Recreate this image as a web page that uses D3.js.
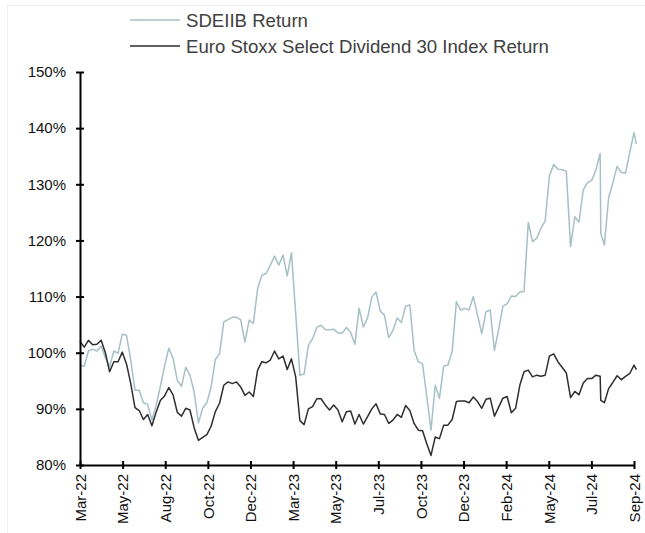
<!DOCTYPE html>
<html>
<head>
<meta charset="utf-8">
<script src="https://cdn.jsdelivr.net/npm/d3@7"></script>
<style>
  html, body { margin: 0; padding: 0; background: #fff; }
  svg { display: block; font-family: "Liberation Sans", Arial, sans-serif; }
</style>
</head>
<body>
<svg id="chart" width="645" height="533"></svg>
<script>
// weekly observation dates (two irregular points: 2024-07-27 and 2024-09-24)
const dates = [
  '2022-03-18','2022-03-25','2022-04-01','2022-04-08','2022-04-15','2022-04-22','2022-04-29','2022-05-06','2022-05-13','2022-05-20',
  '2022-05-27','2022-06-03','2022-06-10','2022-06-17','2022-06-24','2022-07-01','2022-07-08','2022-07-15','2022-07-22','2022-07-29',
  '2022-08-05','2022-08-12','2022-08-19','2022-08-26','2022-09-02','2022-09-09','2022-09-16','2022-09-23','2022-09-30','2022-10-07',
  '2022-10-14','2022-10-21','2022-10-28','2022-11-04','2022-11-11','2022-11-18','2022-11-25','2022-12-02','2022-12-09','2022-12-16',
  '2022-12-23','2022-12-30','2023-01-06','2023-01-13','2023-01-20','2023-01-27','2023-02-03','2023-02-10','2023-02-17','2023-02-24',
  '2023-03-03','2023-03-10','2023-03-17','2023-03-24','2023-03-31','2023-04-07','2023-04-14','2023-04-21','2023-04-28','2023-05-05',
  '2023-05-12','2023-05-19','2023-05-26','2023-06-02','2023-06-09','2023-06-16','2023-06-23','2023-06-30','2023-07-07','2023-07-14',
  '2023-07-21','2023-07-28','2023-08-04','2023-08-11','2023-08-18','2023-08-25','2023-09-01','2023-09-08','2023-09-15','2023-09-22',
  '2023-09-29','2023-10-06','2023-10-13','2023-10-20','2023-10-27','2023-11-03','2023-11-10','2023-11-17','2023-11-24','2023-12-01',
  '2023-12-08','2023-12-15','2023-12-22','2023-12-29','2024-01-05','2024-01-12','2024-01-19','2024-01-26','2024-02-02','2024-02-09',
  '2024-02-16','2024-02-23','2024-03-01','2024-03-08','2024-03-15','2024-03-22','2024-03-29','2024-04-05','2024-04-12','2024-04-19',
  '2024-04-26','2024-05-03','2024-05-10','2024-05-17','2024-05-24','2024-05-31','2024-06-07','2024-06-14','2024-06-21','2024-06-28',
  '2024-07-05','2024-07-12','2024-07-19','2024-07-26','2024-07-27','2024-08-02','2024-08-09','2024-08-16','2024-08-23','2024-08-30',
  '2024-09-06','2024-09-13','2024-09-20','2024-09-24'
]

// SDEIIB Return (%)
const sdeiib = [
  97.8, 97.6, 100.3, 100.6, 100.3, 101.2, 99.1, 97.5, 100.3, 99.9,
  103.3, 103.1, 98.7, 93.3, 93.3, 91.1, 90.8, 88.0, 90.6, 94.0,
  97.6, 100.8, 99.0, 95.1, 94.0, 97.4, 96.0, 93.0, 87.5, 90.1,
  91.1, 93.9, 98.8, 99.8, 105.5, 105.9, 106.3, 106.3, 105.9, 101.9,
  105.8, 105.2, 111.4, 113.8, 114.1, 115.6, 117.2, 115.6, 117.4, 113.7,
  117.8, 107.0, 96.0, 96.2, 101.3, 102.5, 104.5, 104.9, 104.1, 104.1,
  104.2, 103.5, 103.5, 104.5, 103.6, 101.5, 107.9, 104.6, 106.2, 109.9,
  110.8, 107.4, 106.7, 102.7, 104.0, 106.2, 105.4, 108.3, 108.5, 100.4,
  98.4, 98.0, 92.2, 86.2, 94.2, 91.9, 97.6, 97.8, 100.2, 109.1,
  107.6, 107.9, 107.6, 110.0, 106.7, 103.4, 107.3, 107.6, 100.4, 104.2,
  108.3, 108.7, 110.1, 110.0, 110.8, 110.9, 123.2, 119.8, 120.4, 122.2,
  123.5, 131.5, 133.5, 132.7, 132.6, 132.3, 118.9, 124.2, 123.3, 129.0,
  130.3, 130.7, 132.6, 135.5, 121.3, 119.2, 127.6, 130.3, 133.2, 132.1,
  132.0, 135.7, 139.2, 137.2
]

// Euro Stoxx Select Dividend 30 Index Return (%)
const euroStoxx = [
  102.0, 101.0, 102.2, 101.4, 101.5, 102.2, 100.0, 96.6, 98.4, 98.4,
  100.1, 98.0, 94.5, 90.2, 89.7, 88.1, 89.0, 87.0, 89.4, 91.5,
  92.3, 93.8, 92.5, 89.4, 88.7, 90.1, 89.8, 86.6, 84.4, 84.9,
  85.4, 86.9, 89.5, 91.0, 94.2, 94.8, 94.5, 94.8, 93.9, 92.4,
  93.0, 92.2, 96.9, 98.4, 98.2, 98.7, 100.3, 98.9, 99.4, 97.0,
  98.9, 95.7, 87.9, 87.2, 90.0, 90.4, 91.8, 91.8, 90.7, 89.8,
  90.7, 89.8, 87.7, 89.5, 89.6, 87.3, 89.0, 87.3, 88.6, 90.0,
  90.9, 89.1, 89.0, 87.4, 88.0, 89.0, 88.5, 90.6, 89.7, 87.4,
  86.2, 86.1, 83.8, 81.7, 85.0, 84.7, 87.1, 87.1, 88.1, 91.3,
  91.4, 91.4, 91.1, 92.1, 91.3, 90.1, 91.7, 91.9, 88.7, 90.3,
  91.9, 92.2, 89.3, 90.1, 94.2, 96.6, 96.9, 95.7, 96.0, 95.8,
  96.0, 99.4, 99.8, 98.4, 97.4, 96.4, 92.0, 93.1, 92.5, 94.6,
  95.4, 95.4, 96.0, 95.8, 91.5, 91.1, 93.6, 94.7, 95.9, 95.2,
  95.8, 96.3, 97.8, 97.0
]

// axis
const xTickLabels = ['Mar-22','May-22','Aug-22','Oct-22','Dec-22','Mar-23','May-23',
  'Jul-23','Oct-23','Dec-23','Feb-24','May-24','Jul-24','Sep-24']
const yTicks = [80, 90, 100, 110, 120, 130, 140, 150]
const axisStart = '2022-03-18'
const axisEnd = '2024-09-20'

const series = [
  { name: 'SDEIIB Return', values: sdeiib, color: '#a7c0c5' },
  { name: 'Euro Stoxx Select Dividend 30 Index Return', values: euroStoxx, color: '#2e2e2e' },
]

const parse = d3.timeParse('%Y-%m-%d')
const margin = { top: 72, right: 11, bottom: 68, left: 80 }
const W = 645, H = 533

const svg = d3.select('#chart')

// faint outer frame
svg.append('rect')
  .attr('x', 7.5).attr('y', 5.5)
  .attr('width', 700).attr('height', 600)
  .attr('fill', 'none')
  .attr('stroke', '#efefef')

const x = d3.scaleTime()
  .domain([parse(axisStart), parse(axisEnd)])
  .range([margin.left, W - margin.right])

const y = d3.scaleLinear()
  .domain([80, 150])
  .range([H - margin.bottom, margin.top])

// evenly spaced major ticks across the date axis
const [d0, d1] = x.domain()
const xTickValues = xTickLabels.map((_, i) => new Date(+d0 + i * (d1 - d0) / (xTickLabels.length - 1)))

// lines
const line = d3.line()
  .x((d, i) => x(parse(dates[i])))
  .y(d => y(d))

svg.append('g')
  .selectAll('path')
  .data(series)
  .join('path')
  .attr('d', s => line(s.values))
  .attr('fill', 'none')
  .attr('stroke', s => s.color)
  .attr('stroke-width', 1.5)
  .attr('stroke-linejoin', 'round')

// y axis
const yAxis = svg.append('g')
  .attr('transform', `translate(${margin.left},0)`)
  .call(d3.axisLeft(y).tickValues(yTicks).tickFormat(d => d + '%').tickSizeInner(4).tickSizeOuter(0).tickPadding(10))
yAxis.selectAll('.tick line').attr('x1', 4).attr('stroke', '#000').attr('stroke-width', 2)
yAxis.select('.domain').attr('stroke', '#000').attr('stroke-width', 2)
yAxis.selectAll('text')
  .attr('font-size', 15)
  .attr('font-family', '"Liberation Sans", Arial, sans-serif')
  .attr('fill', '#111')

// x axis
const xAxis = svg.append('g')
  .attr('transform', `translate(0,${H - margin.bottom})`)
  .call(d3.axisBottom(x).tickValues(xTickValues).tickFormat((d, i) => xTickLabels[i]).tickSizeInner(4).tickSizeOuter(0))
xAxis.selectAll('.tick line').attr('y1', -4).attr('stroke', '#000').attr('stroke-width', 2)
xAxis.select('.domain').attr('stroke', '#000').attr('stroke-width', 2)
xAxis.selectAll('text')
  .attr('font-size', 15)
  .attr('font-family', '"Liberation Sans", Arial, sans-serif')
  .attr('fill', '#111')
  .attr('transform', 'rotate(-90)')
  .attr('x', -9)
  .attr('y', 0)
  .attr('dy', '0.35em')
  .attr('text-anchor', 'end')

// legend
const legend = svg.append('g')
  .selectAll('g')
  .data(series)
  .join('g')
  .attr('transform', (d, i) => `translate(130,${20 + i * 26})`)

legend.append('line')
  .attr('x1', 0).attr('x2', 50)
  .attr('stroke', d => d.color)
  .attr('stroke-width', 1.5)

legend.append('text')
  .attr('x', 56)
  .attr('dy', '0.35em')
  .attr('font-size', 18.6)
  .attr('fill', '#404040')
  .text(d => d.name)
</script>
</body>
</html>
